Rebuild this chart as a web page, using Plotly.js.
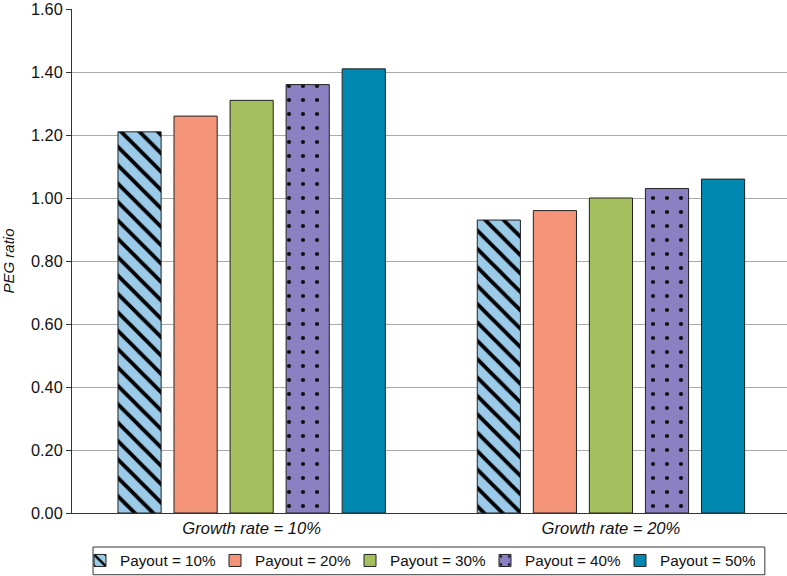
<!DOCTYPE html>
<html>
<head>
<meta charset="utf-8">
<script src="https://cdn.plot.ly/plotly-3.0.1.min.js"></script>
<style>html,body{margin:0;padding:0;background:#fff;}#chart{width:787px;height:576px;}</style>
</head>
<body>
<div id="chart"></div>
<script>
const categories = ["Growth rate = 10%", "Growth rate = 20%"];
const seriesNames = ["Payout = 10%", "Payout = 20%", "Payout = 30%", "Payout = 40%", "Payout = 50%"];
const payout10 = [1.21, 0.93];
const payout20 = [1.26, 0.96];
const payout30 = [1.31, 1.00];
const payout40 = [1.36, 1.03];
const payout50 = [1.41, 1.06];
const yTickVals = [0, 0.2, 0.4, 0.6, 0.8, 1.0, 1.2, 1.4, 1.6];

const values = [payout10, payout20, payout30, payout40, payout50];
const colors = ["#9ccbea", "#f4957a", "#a5bf5f", "#8b80c1", "#0088b0"];
const patterns = [
  {shape: "\\", fgcolor: "#000000", bgcolor: "#9ccbea", size: 13, solidity: 0.3, fillmode: "replace"},
  null, null,
  {shape: ".", fgcolor: "#111111", bgcolor: "#8b80c1", size: 14, solidity: 0.07, fillmode: "replace"},
  null
];

const traces = values.map((v, i) => {
  const marker = {color: colors[i], line: {color: "#222222", width: 1}};
  if (patterns[i]) marker.pattern = patterns[i];
  return {
    type: "bar",
    name: seriesNames[i],
    x: categories,
    y: v,
    marker: marker,
    hoverinfo: "x+y+name"
  };
});

const layout = {
  width: 787, height: 576,
  margin: {l: 72, r: 0, t: 9, b: 63, autoexpand: false},
  paper_bgcolor: "#ffffff",
  plot_bgcolor: "#ffffff",
  font: {family: "Liberation Sans, Arial, sans-serif", size: 16, color: "#111111"},
  barmode: "group",
  bargap: 0.22,
  bargroupgap: 0.23,
  xaxis: {
    type: "category",
    range: [-0.5, 1.49],
    showline: true, linecolor: "#333333", linewidth: 1,
    ticks: "", showgrid: false,
    tickfont: {family: "Liberation Sans, Arial, sans-serif", size: 16.6, style: "italic"}
  },
  yaxis: {
    range: [0, 1.6],
    tickvals: yTickVals,
    tickformat: ".2f",
    ticklabeloverflow: "allow",
    showline: true, linecolor: "#333333", linewidth: 1,
    ticks: "outside", ticklen: 5, tickcolor: "#333333",
    showgrid: true, gridcolor: "#aaaaaa", gridwidth: 1,
    zeroline: false,
    tickfont: {size: 16.3},
    title: {text: "PEG ratio", font: {size: 15, style: "italic"}, standoff: 13}
  },
  legend: {
    orientation: "h",
    x: 0.0112, xanchor: "left",
    y: -0.0615, yanchor: "top",
    borderwidth: 0,
    bgcolor: "rgba(0,0,0,0)",
    font: {size: 15.3},
    itemwidth: 30,
    entrywidth: 90,
    traceorder: "normal"
  },
  shapes: [{
    type: "rect", xref: "paper", yref: "paper",
    x0: 0.0294, x1: 0.969, y0: -0.0675, y1: -0.1225,
    line: {color: "#333333", width: 1}, fillcolor: "rgba(0,0,0,0)", layer: "below"
  }],
  showlegend: true
};

Plotly.newPlot("chart", traces, layout, {displayModeBar: false, staticPlot: true});
</script>
</body>
</html>
